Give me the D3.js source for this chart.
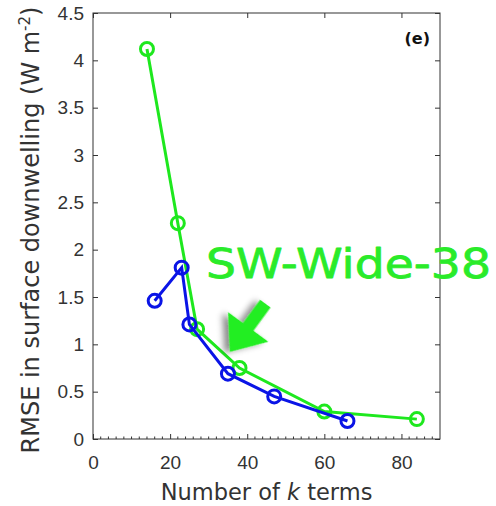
<!DOCTYPE html>
<html>
<head>
<meta charset="utf-8">
<script src="https://cdn.jsdelivr.net/npm/d3@7"></script>
<style>
  body { margin: 0; background: #fff; }
  svg { display: block; }
</style>
</head>
<body>
<div id="chart"></div>
<script>
const width = 496;
const height = 506;

// series
const greenK = [14, 22, 27, 38, 60, 84];
const greenRmse = [4.12, 2.28, 1.16, 0.75, 0.29, 0.21];
const blueK = [16, 23, 25, 35, 47, 66];
const blueRmse = [1.46, 1.81, 1.21, 0.69, 0.45, 0.19];

const xTicks = [0, 20, 40, 60, 80];
const yTicks = [0, 0.5, 1, 1.5, 2, 2.5, 3, 3.5, 4, 4.5];

const margin = {top: 13, right: 56, bottom: 67, left: 93};

const svg = d3.select("#chart").append("svg")
    .attr("width", width)
    .attr("height", height)
    .attr("font-family", "DejaVu Sans, sans-serif");

const x = d3.scaleLinear().domain([0, 90]).range([margin.left, width - margin.right]);
const y = d3.scaleLinear().domain([0, 4.5]).range([height - margin.bottom, margin.top]);

const axisColor = "#333";

// frame
svg.append("rect")
    .attr("x", x(0))
    .attr("y", y(4.5))
    .attr("width", x(90) - x(0))
    .attr("height", y(0) - y(4.5))
    .attr("fill", "none")
    .attr("stroke", axisColor)
    .attr("stroke-width", 1);

// bottom axis, ticks pointing in
const xAxis = svg.append("g")
    .attr("transform", `translate(0,${y(0)})`)
    .call(d3.axisBottom(x).tickValues(xTicks).tickSizeInner(-5).tickSizeOuter(0).tickPadding(17));
xAxis.select(".domain").remove();
xAxis.selectAll("line").attr("stroke", axisColor);
xAxis.selectAll("text").attr("font-size", 19).attr("fill", axisColor);

// minor ticks on bottom axis
svg.append("g")
  .selectAll("line")
  .data(d3.range(2, 90, 2).filter(v => v % 20 !== 0))
  .join("line")
    .attr("x1", d => x(d)).attr("x2", d => x(d))
    .attr("y1", y(0)).attr("y2", y(0) - 2.5)
    .attr("stroke", axisColor);

// top ticks
const xTop = svg.append("g")
    .attr("transform", `translate(0,${y(4.5)})`)
    .call(d3.axisTop(x).tickValues(xTicks).tickSizeInner(-5).tickSizeOuter(0).tickFormat(""));
xTop.select(".domain").remove();
xTop.selectAll("line").attr("stroke", axisColor);

// left axis
const yAxis = svg.append("g")
    .attr("transform", `translate(${x(0)},0)`)
    .call(d3.axisLeft(y).tickValues(yTicks).tickSizeInner(-5).tickSizeOuter(0).tickPadding(9)
      .tickFormat(d3.format("~g")));
yAxis.select(".domain").remove();
yAxis.selectAll("line").attr("stroke", axisColor);
yAxis.selectAll("text").attr("font-size", 19).attr("fill", axisColor);

// right ticks
const yRight = svg.append("g")
    .attr("transform", `translate(${x(90)},0)`)
    .call(d3.axisRight(y).tickValues(yTicks).tickSizeInner(-5).tickSizeOuter(0).tickFormat(""));
yRight.select(".domain").remove();
yRight.selectAll("line").attr("stroke", axisColor);

// axis labels
const xLabel = svg.append("text")
    .attr("x", (x(0) + x(90)) / 2)
    .attr("y", 500)
    .attr("text-anchor", "middle")
    .attr("font-size", 22.5)
    .attr("fill", axisColor);
xLabel.append("tspan").text("Number of ");
xLabel.append("tspan").attr("font-style", "italic").text("k");
xLabel.append("tspan").text(" terms");

const yLabel = svg.append("text")
    .attr("transform", `translate(39,${(y(0) + y(4.5)) / 2 + 4}) rotate(-90)`)
    .attr("text-anchor", "middle")
    .attr("font-size", 24)
    .attr("fill", axisColor);
yLabel.append("tspan").text("RMSE in surface downwelling (W m");
yLabel.append("tspan").attr("baseline-shift", "super").attr("font-size", 15).text("-2");
yLabel.append("tspan").text(")");

// panel tag
svg.append("text")
    .attr("x", x(90) - 10)
    .attr("y", y(4.5) + 31)
    .attr("text-anchor", "end")
    .attr("font-size", 16)
    .attr("font-weight", "bold")
    .attr("fill", "#111")
    .text("(e)");

// series
const series = [
  {k: greenK, v: greenRmse, color: "#1ee81e"},
  {k: blueK, v: blueRmse, color: "#0a14e6"}
];

const line = d3.line().x(d => x(d[0])).y(d => y(d[1]));

series.forEach(s => {
  const pts = s.k.map((k, i) => [k, s.v[i]]);
  svg.append("path")
      .datum(pts)
      .attr("d", line)
      .attr("fill", "none")
      .attr("stroke", s.color)
      .attr("stroke-width", 3);
  svg.append("g")
    .selectAll("circle")
    .data(pts)
    .join("circle")
      .attr("cx", d => x(d[0]))
      .attr("cy", d => y(d[1]))
      .attr("r", 6.5)
      .attr("fill", "none")
      .attr("stroke", s.color)
      .attr("stroke-width", 3);
});

// annotation: label and arrow
const defs = svg.append("defs");
const shadow = defs.append("filter").attr("id", "shadow")
    .attr("x", "-50%").attr("y", "-50%").attr("width", "200%").attr("height", "200%");
shadow.append("feDropShadow")
    .attr("dx", 4).attr("dy", 4).attr("stdDeviation", 3)
    .attr("flood-color", "#000").attr("flood-opacity", 0.45);

svg.append("text")
    .attr("x", 206)
    .attr("y", 278)
    .attr("font-family", "Comic Sans MS, DejaVu Sans, sans-serif")
    .attr("font-size", 41)
    .attr("fill", "#2aeb2a")
    .attr("stroke", "#2aeb2a")
    .attr("stroke-width", 0.8)
    .attr("stroke-linejoin", "round")
    .attr("textLength", 285)
    .attr("lengthAdjust", "spacingAndGlyphs")
    .text("SW-Wide-38");

// arrow in data coords: tail at (44.7, 1.43), tip at (35.5, 0.92)
const tail = [x(44.7), y(1.43)];
const tip = [x(35.5), y(0.92)];
const ang = Math.atan2(tip[1] - tail[1], tip[0] - tail[0]);
const len = Math.hypot(tip[0] - tail[0], tip[1] - tail[1]);
const headLen = 31, headW = 25, shaftW = 6.5;
const arrowPts = [
  [0, -shaftW], [len - headLen, -shaftW], [len - headLen, -headW],
  [len, 0], [len - headLen, headW], [len - headLen, shaftW], [0, shaftW]
];
svg.append("polygon")
    .attr("points", arrowPts.map(p => p.join(",")).join(" "))
    .attr("transform", `translate(${tail[0]},${tail[1]}) rotate(${ang * 180 / Math.PI})`)
    .attr("fill", "#22ee22")
    .attr("filter", "url(#shadow)");
</script>
</body>
</html>
